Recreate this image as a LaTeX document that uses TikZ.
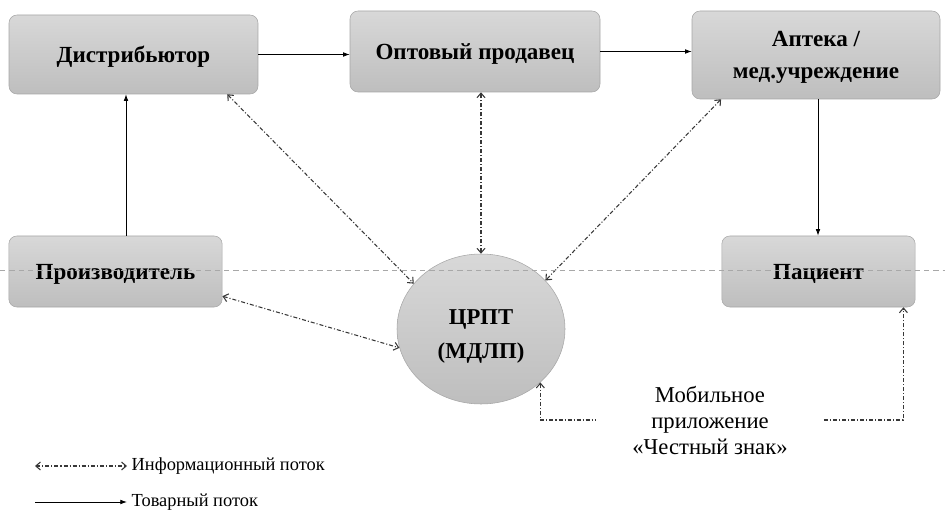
\documentclass[tikz,border=0pt]{standalone}
\usepackage{fontspec}
\setmainfont{Liberation Serif}
\usetikzlibrary{arrows.meta, shapes.geometric}
\definecolor{bloktop}{HTML}{D8D8D8}
\definecolor{blokbot}{HTML}{BEBEBE}
\definecolor{blokline}{HTML}{A6A6A6}
\definecolor{infoline}{HTML}{383838}
\definecolor{razdel}{HTML}{A8A8A8}
\tikzset{
    blok/.style={draw=blokline, rounded corners=6pt, top color=bloktop, bottom color=blokbot,
        align=center, text depth=0pt, font=\bfseries\fontsize{17.3}{24.5}\selectfont},
    krug/.style={ellipse, draw=blokline, top color=bloktop, bottom color=blokbot},
    krugtekst/.style={align=center, font=\bfseries\fontsize{17}{25.5}\selectfont},
    infopotok/.style={draw=infoline, line width=0.8pt, dash pattern=on 3pt off 1.5pt on 0.8pt off 1.5pt,
        {Straight Barb[length=3.5pt,width=6pt]}-{Straight Barb[length=3.5pt,width=6pt]}},
    tovpotok/.style={draw=black, line width=0.6pt, -{Latex[length=5pt,width=3.5pt]}},
    podpis/.style={font=\fontsize{17}{19.5}\selectfont, align=center},
    legenda/.style={font=\fontsize{13.8}{16}\selectfont}
}
\begin{document}
\begin{tikzpicture}[x=0.75pt, y=-0.75pt]
    \useasboundingbox (0,0) rectangle (945,513);
    % uchastniki
    \node[blok, minimum width=186.75pt, minimum height=59.25pt] (distr) at (133.5,54.5) {Дистрибьютор};
    \node[blok, minimum width=187.5pt, minimum height=60.75pt] (opt) at (475,51.5) {Оптовый продавец};
    \node[blok, minimum width=186pt, minimum height=66pt] (apt) at (816,55) {Аптека /\\мед.учреждение};
    \node[blok, minimum width=160pt, minimum height=53.25pt] (proizv) at (115.5,271.5) {Производитель};
    \node[blok, minimum width=145pt, minimum height=53.25pt] (pacient) at (818.5,271.5) {Пациент};
    \node[krug, minimum width=126pt, minimum height=112.5pt, inner sep=0pt] (crpt) at (481,329) {};
    \node[krugtekst] (crpttekst) at (481,336) {ЦРПТ\\(МДЛП)};
    \node[podpis, inner xsep=27pt] (mobil) at (710,420) {Мобильное\\приложение\\«Честный знак»};
    % tovarnyj potok
    \draw[tovpotok] (proizv.north -| 126,0) -- (distr.south -| 126,0);
    \draw[tovpotok] (distr.east) -- (opt.west |- distr.east);
    \draw[tovpotok] (opt.east) -- (apt.west |- opt.east);
    \draw[tovpotok] (apt.south -| 818,0) -- (pacient.north -| 818,0);
    % informacionnyj potok
    \draw[infopotok] (distr.-23) -- (crpt.146);
    \draw[infopotok] (crpt.north -| 481,0) -- (opt.south -| 481,0);
    \draw[infopotok] (apt.205) -- (crpt.37);
    \draw[infopotok] (proizv.-13) -- (crpt.193);
    \draw[infopotok, {Straight Barb[length=3.5pt,width=6pt]}-] (crpt.-42) |- (mobil.west);
    \draw[infopotok, -{Straight Barb[length=3.5pt,width=6pt]}] (mobil.east) -| ([xshift=-9pt]pacient.south east);
    % legenda
    \node[legenda, anchor=west] (leginfo) at (127,466) {Информационный поток};
    \node[legenda, anchor=west] (legtov) at (127,502) {Товарный поток};
    \coordinate (li) at (35,466);
    \coordinate (lt) at (35,502);
    \draw[infopotok] (li) -- (leginfo.west);
    \draw[tovpotok] (lt) -- (legtov.west);
    % razdelitel
    \draw[razdel, dash pattern=on 4pt off 3pt, line width=0.5pt] (0,270) -- (945,270);
\end{tikzpicture}
\end{document}
